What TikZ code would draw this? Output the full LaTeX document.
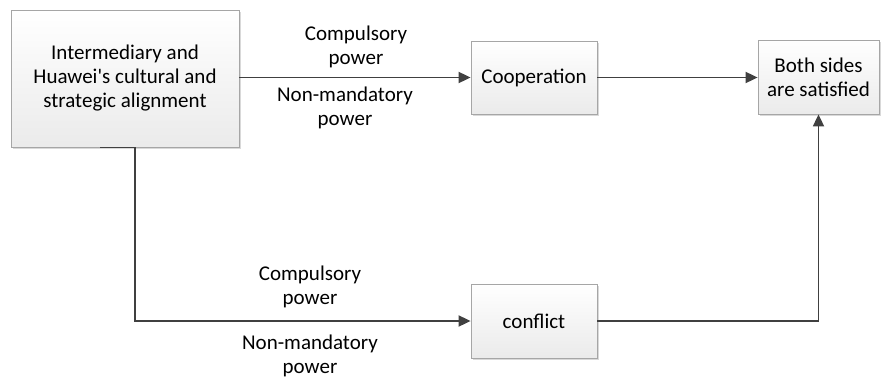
\documentclass[tikz,border=0pt]{standalone}
\usepackage{fontspec}
\setmainfont{Carlito}
\usetikzlibrary{arrows.meta,shadows}
\definecolor{linec}{HTML}{404040}
\definecolor{boxborder}{HTML}{A6A6A6}
\begin{document}
\begin{tikzpicture}[x=1pt,y=-1pt,
  box/.style={draw=boxborder, line width=0.8pt, top color=white, bottom color=black!8,
    drop shadow={shadow xshift=2pt, shadow yshift=-2pt, fill=black!25, opacity=0.6},
    align=center, font=\fontsize{21}{24}\selectfont, inner sep=0pt},
  conn/.style={draw=linec, line width=1.8pt, -{Triangle[length=12pt,width=11pt]}},
  plain/.style={draw=linec, line width=1.8pt},
  lbl/.style={align=center, font=\fontsize{21}{24}\selectfont, inner sep=0pt}]
\useasboundingbox (0,0) rectangle (881,380);
\node[box, minimum width=228pt, minimum height=137pt] (A) at (125,78.5)
  {Intermediary and\\Huawei\textquotesingle s cultural and\\strategic alignment};
\node[box, minimum width=126pt, minimum height=73pt] (coop) at (534,77.5) {Cooperation};
\node[box, minimum width=121pt, minimum height=74pt] (both) at (818.5,77) {Both sides\\are satisfied};
\node[box, minimum width=126pt, minimum height=74pt] (confl) at (534,321) {conflict};
\coordinate (s1) at ([xshift=-25pt]A.south);
\coordinate (s2) at ([xshift=10pt]A.south);
\draw[conn] (A.east |- coop.west) -- (coop.west);
\draw[conn] (coop.east) -- (both.west |- coop.east);
\draw[plain] (s1) -- (s2);
\draw[conn] (s2) |- (confl.west);
\draw[conn] (confl.east) -| (both.south);
\node[lbl] (l1) at (356,46.5) {Compulsory\\power};
\node[lbl] (l2) at (345,107.5) {Non-mandatory\\power};
\node[lbl] (l3) at (310,287) {Compulsory\\power};
\node[lbl] (l4) at (310,355.5) {Non-mandatory\\power};
\end{tikzpicture}
\end{document}
